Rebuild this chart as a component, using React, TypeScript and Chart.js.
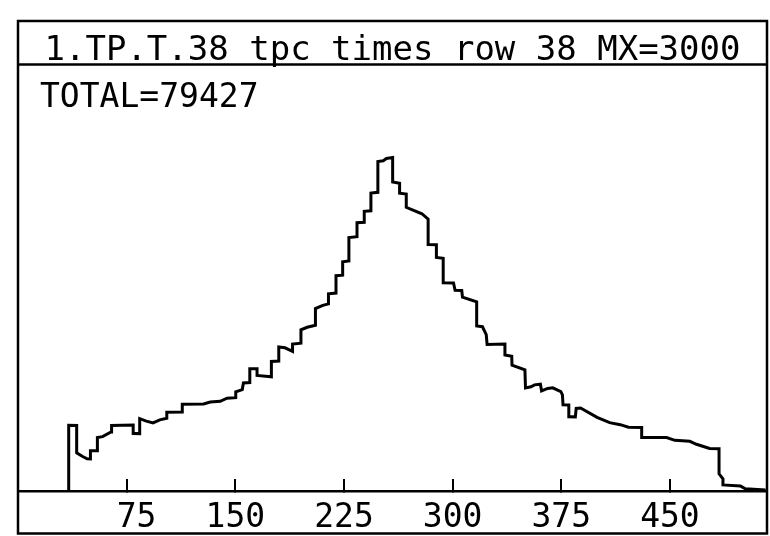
import React, { useEffect, useRef } from "react";
import { Chart, registerables } from "chart.js";

Chart.register(...registerables);

const TITLE = "1.TP.T.38 tpc times row 38 MX=3000";
const TOTAL_LABEL = "TOTAL=79427";
const X_TICKS = [75, 150, 225, 300, 375, 450];
const X_MAX = 517;
const Y_MAX = 3000;
const FONT = "'DejaVu Sans Mono', monospace";

// traced outline of the histogram (channel, counts)
const CHANNEL = [
  35, 35, 40.5, 40.5, 44.3, 47.7, 50, 50, 54.8, 54.8, 58.4, 64.2, 64.6, 79.5, 79.5, 84, 84, 88.6, 93.2, 97.9,
  102.7, 102.7, 113.4, 113.4, 128.1, 132.7, 139.6, 144.3, 150.3, 150.3, 154.8, 155.6, 160, 160, 165, 165,
  174.9, 174.9, 180, 180, 184.3, 189.5, 189.5, 195.3, 195.3, 199.6, 205.3, 205.3, 210.4, 214.3, 214.3,
  219.5, 219.5, 224.1, 224.1, 228.4, 228.4, 234, 234, 239, 239, 243.6, 243.6, 248.4, 248.4, 252.1, 254.3,
  258.6, 258.6, 263.4, 263.4, 268, 268, 278.8, 283.1, 283.1, 288.8, 288.8, 293.5, 293.5, 300.6, 301.7,
  306.3, 306.8, 316.6, 316.6, 320.6, 323.2, 323.8, 336.1, 336.1, 340.8, 341, 349.9, 350.3, 354.1, 356.5,
  360.6, 361.4, 365.6, 369.1, 374.7, 375.8, 376.2, 380.2, 380.2, 384.7, 385.3, 388.3, 399.7, 408.4, 415.7,
  421.4, 430.5, 430.5, 447.7, 453.4, 463.7, 468.3, 477.4, 483.9, 483.9, 486.6, 486.6, 498.7, 502.1, 516,
];
const COUNTS = [
  0, 461, 460, 268, 244, 226, 225, 282, 282, 375, 382, 415, 461, 463, 404, 403, 508, 491, 478, 500,
  511, 553, 555, 609, 611, 625, 630, 652, 656, 697, 713, 760, 762, 860, 859, 812,
  803, 911, 914, 1013, 1007, 982, 1033, 1039, 1133, 1151, 1165, 1283, 1305, 1316, 1387,
  1392, 1514, 1518, 1612, 1618, 1782, 1788, 1887, 1890, 1967, 1971, 2096, 2101, 2317, 2323, 2339,
  2346, 2174, 2165, 2095, 2089, 1995, 1950, 1912, 1734, 1732, 1642, 1636, 1465, 1463, 1411,
  1410, 1363, 1330, 1161, 1155, 1100, 1030, 1034, 956, 948, 884, 852, 725, 733, 746,
  751, 703, 721, 725, 699, 676, 606, 604, 522, 521, 580, 583, 517, 480, 466,
  448, 446, 375, 376, 356, 349, 328, 298, 296, 120, 85, 42, 34, 15, 6,
];

const framePlugin = {
  id: "frame",
  afterDraw(chart: any) {
    const ctx = chart.ctx;
    const { left, right, top } = chart.chartArea;
    const titleTop = chart.titleBlock ? chart.titleBlock.top : 21;
    const bottom = chart.height - 2.5;
    ctx.save();
    ctx.strokeStyle = "#000";
    ctx.lineWidth = 2.5;
    ctx.strokeRect(left, titleTop, right - left, bottom - titleTop);
    ctx.beginPath();
    ctx.moveTo(left, top);
    ctx.lineTo(right, top);
    ctx.stroke();
    ctx.fillStyle = "#000";
    ctx.font = `33px ${FONT}`;
    ctx.textBaseline = "alphabetic";
    ctx.textAlign = "left";
    ctx.fillText(TOTAL_LABEL, left + 22, top + 42);
    ctx.restore();
  },
};

export default function App() {
  const ref = useRef<HTMLCanvasElement | null>(null);
  useEffect(() => {
    if (!ref.current) return;
    const chart = new Chart(ref.current, {
      type: "line",
      data: {
        datasets: [
          {
            data: CHANNEL.map((x, i) => ({ x, y: COUNTS[i] })),
            borderColor: "#000",
            borderWidth: 3,
            pointRadius: 0,
            tension: 0,
            fill: false,
          },
        ],
      },
      options: {
        animation: false,
        responsive: false,
        devicePixelRatio: 1,
        layout: { padding: { left: 18, right: 3, top: 21, bottom: -22.5 } },
        scales: {
          x: {
            type: "linear",
            min: 0,
            max: X_MAX,
            afterBuildTicks: (s: any) => {
              s.ticks = X_TICKS.map((v) => ({ value: v }));
            },
            ticks: {
              autoSkip: false,
              maxRotation: 0,
              color: "#000",
              padding: 20,
              font: { family: FONT, size: 33 },
              callback: (v: any) => String(v).padStart(3, " "),
            },
            grid: {
              drawOnChartArea: false,
              drawTicks: true,
              tickLength: -12,
              color: "#000",
              lineWidth: 2,
            },
            border: { display: true, color: "#000", width: 2.5 },
          },
          y: { display: false, min: 0, max: Y_MAX },
        },
        plugins: {
          legend: { display: false },
          tooltip: { enabled: false },
          title: {
            display: true,
            text: TITLE,
            color: "#000",
            font: { family: FONT, size: 34, weight: "normal", lineHeight: 0.75 },
            padding: { top: 17, bottom: 1 },
          },
        },
      },
      plugins: [framePlugin],
    });
    return () => chart.destroy();
  }, []);
  return (
    <div style={{ position: "fixed", left: 0, top: 0, width: 770, height: 536, background: "#fff" }}>
      <canvas ref={ref} width={770} height={536} />
    </div>
  );
}
